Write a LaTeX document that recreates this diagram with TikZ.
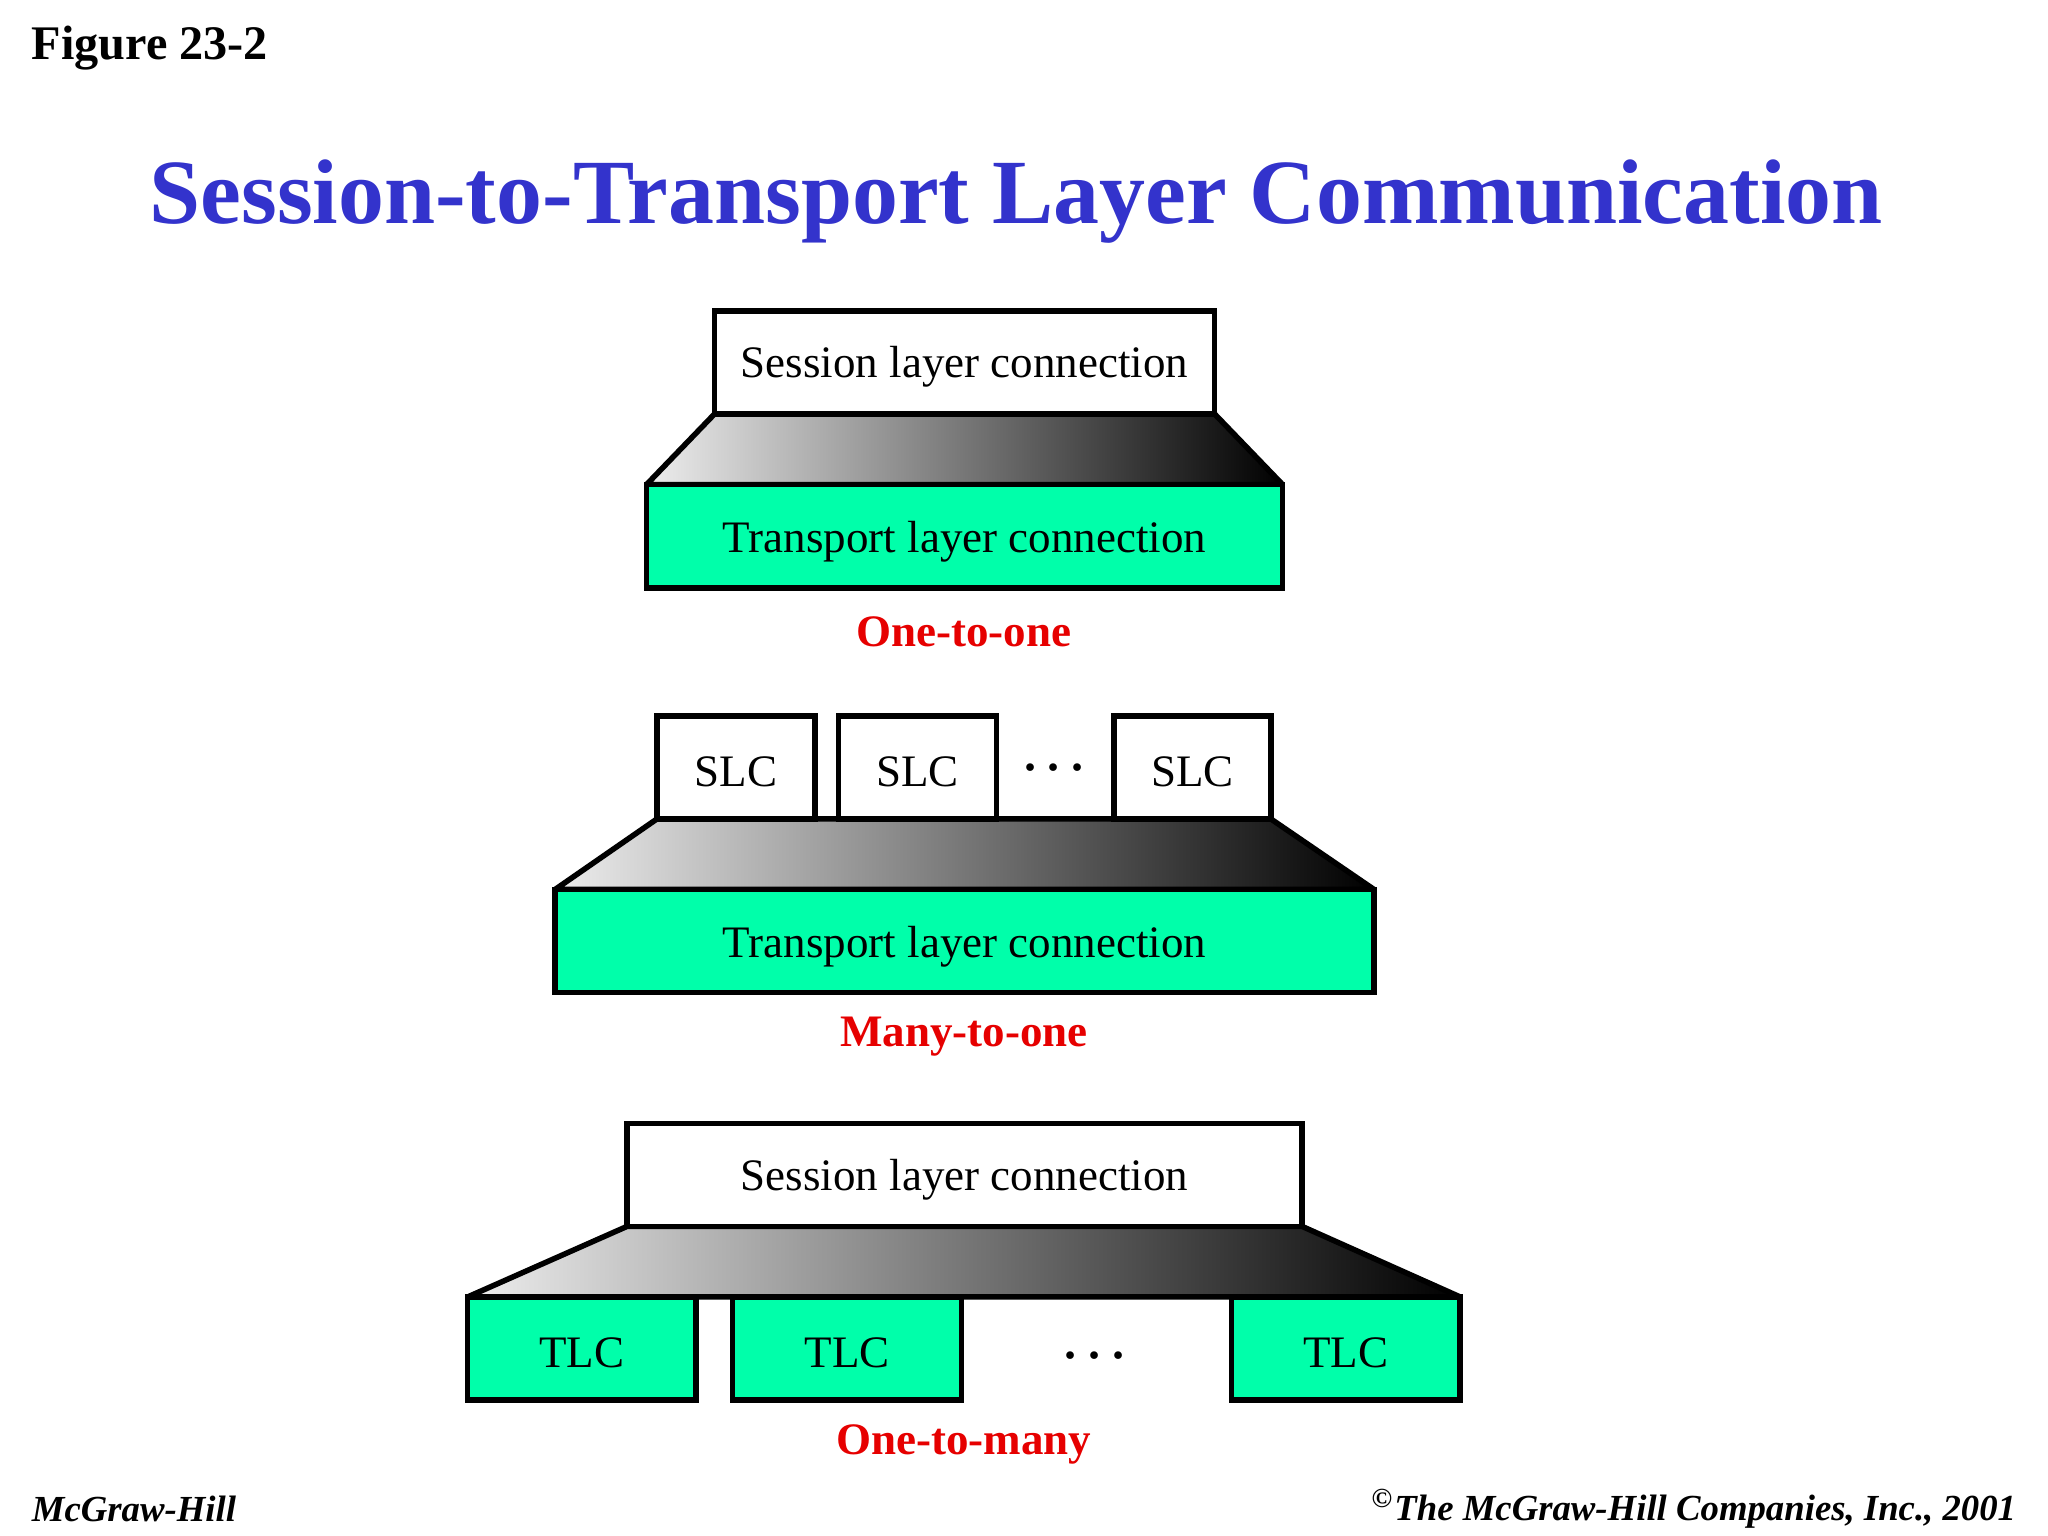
\documentclass[tikz,border=0pt]{standalone}
\usepackage{fontspec}
\setmainfont{Liberation Serif}
\begin{document}
\begin{tikzpicture}[x=0.01cm,y=-0.01cm,
  box/.style={draw=black,line width=1.2pt,fill=white},
  tbox/.style={draw=black,line width=1.2pt,fill={rgb,255:red,0;green,255;blue,170}},
  trap/.style={draw=black,line width=1.2pt,line join=bevel,left color=white!93!black,right color=black},
  txt/.style={font=\fontsize{9.8pt}{11pt}\selectfont},
  dots/.style={font=\fontsize{14pt}{16pt}\selectfont},
  lab/.style={font=\fontsize{9.8pt}{11pt}\selectfont\bfseries,text={rgb,255:red,230;green,0;blue,0}}]
\useasboundingbox (0,0) rectangle (1568,1176);
\node[anchor=west,font=\fontsize{10.5pt}{12pt}\selectfont\bfseries] (fig) at (12,37) {Figure 23-2};
\node[font=\fontsize{20pt}{24pt}\selectfont\bfseries,text={rgb,255:red,51;green,51;blue,204}] (title) at (778,154) {Session-to-Transport Layer Communication};
% one-to-one
\draw[trap] (547,317) -- (930,317) -- (982,371) -- (495,371) -- cycle;
\draw[box] (547,238) rectangle (930,317);
\node[txt] (s1) at (738.5,281) {Session layer connection};
\draw[tbox] (495,371) rectangle (982,450);
\node[txt] (t1) at (738.5,415) {Transport layer connection};
\node[lab] (l1) at (738,484) {One-to-one};
% many-to-one
\draw[trap] (503,627) -- (973,627) -- (1052,681) -- (425,681) -- cycle;
\draw[box] (503,548) rectangle (624,627);
\draw[box] (642,548) rectangle (763,627);
\draw[box] (853,548) rectangle (973,627);
\node[txt] (a1) at (563.5,591) {SLC};
\node[txt] (a2) at (702.5,591) {SLC};
\node[txt] (a3) at (913,591) {SLC};
\node[dots] (d1) at (807,588) {.\hspace{0.12em}.\hspace{0.12em}.};
\draw[tbox] (425,681) rectangle (1052,760);
\node[txt] (t2) at (738.5,725) {Transport layer connection};
\node[lab] (l2) at (738,794) {Many-to-one};
% one-to-many
\draw[trap] (480,939) -- (997,939) -- (1118,993) -- (358,993) -- cycle;
\draw[box] (480,860) rectangle (997,939);
\node[txt] (s3) at (738.5,903) {Session layer connection};
\draw[tbox] (358,993) rectangle (533,1072);
\draw[tbox] (561,993) rectangle (736,1072);
\draw[tbox] (943,993) rectangle (1118,1072);
\node[txt] (b1) at (445.5,1036) {TLC};
\node[txt] (b2) at (648.5,1036) {TLC};
\node[txt] (b3) at (1030.5,1036) {TLC};
\node[dots] (d2) at (838,1038) {.\hspace{0.12em}.\hspace{0.12em}.};
\node[lab] (l3) at (738,1106) {One-to-many};
% footer
\node[anchor=west,font=\fontsize{8pt}{9pt}\selectfont\itshape\bfseries] (f1) at (12,1155) {McGraw-Hill};
\node[anchor=east,font=\fontsize{8pt}{9pt}\selectfont\itshape\bfseries] (f2) at (1556,1155) {\textsuperscript{\copyright}The McGraw-Hill Companies, Inc., 2001};
\end{tikzpicture}
\end{document}
